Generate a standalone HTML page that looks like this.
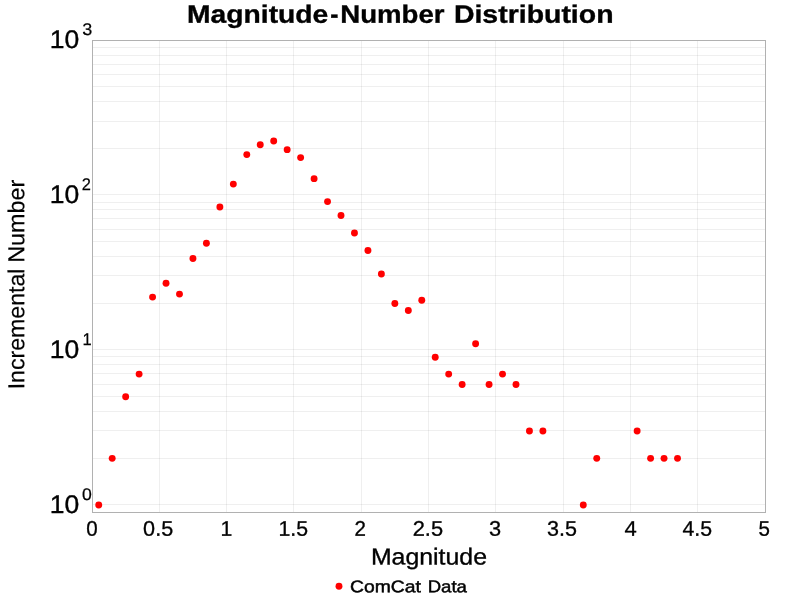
<!DOCTYPE html>
<html><head><meta charset="utf-8"><title>Magnitude-Number Distribution</title>
<style>html,body{margin:0;padding:0;background:#fff;overflow:hidden}svg{display:block}text{font-family:"Liberation Sans",sans-serif;fill:#000}</style></head><body>
<svg width="800" height="600" viewBox="0 0 800 600">
<rect x="0" y="0" width="800" height="600" fill="#fff"/>
<g shape-rendering="crispEdges" fill="#000" fill-opacity="0.063">
<rect x="93" y="504" width="672" height="1"/>
<rect x="93" y="458" width="672" height="1"/>
<rect x="93" y="430" width="672" height="1"/>
<rect x="93" y="411" width="672" height="1"/>
<rect x="93" y="396" width="672" height="1"/>
<rect x="93" y="384" width="672" height="1"/>
<rect x="93" y="373" width="672" height="1"/>
<rect x="93" y="364" width="672" height="1"/>
<rect x="93" y="356" width="672" height="1"/>
<rect x="93" y="349" width="672" height="1"/>
<rect x="93" y="303" width="672" height="1"/>
<rect x="93" y="275" width="672" height="1"/>
<rect x="93" y="256" width="672" height="1"/>
<rect x="93" y="241" width="672" height="1"/>
<rect x="93" y="229" width="672" height="1"/>
<rect x="93" y="218" width="672" height="1"/>
<rect x="93" y="209" width="672" height="1"/>
<rect x="93" y="202" width="672" height="1"/>
<rect x="93" y="194" width="672" height="1"/>
<rect x="93" y="148" width="672" height="1"/>
<rect x="93" y="121" width="672" height="1"/>
<rect x="93" y="101" width="672" height="1"/>
<rect x="93" y="86" width="672" height="1"/>
<rect x="93" y="74" width="672" height="1"/>
<rect x="93" y="64" width="672" height="1"/>
<rect x="93" y="55" width="672" height="1"/>
<rect x="93" y="47" width="672" height="1"/>
<rect x="159" y="41" width="1" height="471"/>
<rect x="226" y="41" width="1" height="471"/>
<rect x="293" y="41" width="1" height="471"/>
<rect x="361" y="41" width="1" height="471"/>
<rect x="428" y="41" width="1" height="471"/>
<rect x="495" y="41" width="1" height="471"/>
<rect x="563" y="41" width="1" height="471"/>
<rect x="630" y="41" width="1" height="471"/>
<rect x="697" y="41" width="1" height="471"/>
</g>
<g shape-rendering="crispEdges" fill="#b1b1b1">
<rect x="92" y="40" width="674" height="1"/><rect x="92" y="512" width="674" height="1"/><rect x="92" y="40" width="1" height="473"/><rect x="765" y="40" width="1" height="473"/>
</g>
<g fill="#ff0000">
<circle cx="98.73" cy="504.95" r="3.45"/>
<circle cx="112.19" cy="458.34" r="3.45"/>
<circle cx="125.65" cy="396.71" r="3.45"/>
<circle cx="139.11" cy="374.09" r="3.45"/>
<circle cx="152.57" cy="297.08" r="3.45"/>
<circle cx="166.03" cy="283.30" r="3.45"/>
<circle cx="179.49" cy="294.09" r="3.45"/>
<circle cx="192.95" cy="258.57" r="3.45"/>
<circle cx="206.41" cy="243.22" r="3.45"/>
<circle cx="219.87" cy="206.98" r="3.45"/>
<circle cx="233.33" cy="184.12" r="3.45"/>
<circle cx="246.79" cy="154.61" r="3.45"/>
<circle cx="260.25" cy="144.72" r="3.45"/>
<circle cx="273.71" cy="141.01" r="3.45"/>
<circle cx="287.17" cy="149.65" r="3.45"/>
<circle cx="300.63" cy="157.62" r="3.45"/>
<circle cx="314.09" cy="178.65" r="3.45"/>
<circle cx="327.55" cy="201.59" r="3.45"/>
<circle cx="341.01" cy="215.50" r="3.45"/>
<circle cx="354.47" cy="233.05" r="3.45"/>
<circle cx="367.93" cy="250.46" r="3.45"/>
<circle cx="381.39" cy="274.01" r="3.45"/>
<circle cx="394.85" cy="303.49" r="3.45"/>
<circle cx="408.31" cy="310.57" r="3.45"/>
<circle cx="421.77" cy="300.20" r="3.45"/>
<circle cx="435.23" cy="357.19" r="3.45"/>
<circle cx="448.69" cy="374.09" r="3.45"/>
<circle cx="462.15" cy="384.45" r="3.45"/>
<circle cx="475.61" cy="343.69" r="3.45"/>
<circle cx="489.07" cy="384.45" r="3.45"/>
<circle cx="502.53" cy="374.09" r="3.45"/>
<circle cx="515.99" cy="384.45" r="3.45"/>
<circle cx="529.45" cy="431.07" r="3.45"/>
<circle cx="542.91" cy="431.07" r="3.45"/>
<circle cx="583.29" cy="504.95" r="3.45"/>
<circle cx="596.75" cy="458.34" r="3.45"/>
<circle cx="637.13" cy="431.07" r="3.45"/>
<circle cx="650.59" cy="458.34" r="3.45"/>
<circle cx="664.05" cy="458.34" r="3.45"/>
<circle cx="677.51" cy="458.34" r="3.45"/>
<circle cx="339" cy="586.3" r="3.45"/>
</g>
<g id="txt" style="opacity:0.999">
<text id="t1" x="187.05" y="22.70" font-size="25.10" font-weight="bold" textLength="141.29" lengthAdjust="spacingAndGlyphs" stroke="#000" stroke-width="0.35" transform="rotate(0.03 257.7 22.7)">Magnitude</text>
<text id="t2" x="330.19" y="22.70" font-size="25.10" font-weight="bold" textLength="8.20" lengthAdjust="spacingAndGlyphs" stroke="#000" stroke-width="0.35" transform="rotate(0.03 334.3 22.7)">-</text>
<text id="t3" x="340.25" y="22.70" font-size="25.10" font-weight="bold" textLength="104.27" lengthAdjust="spacingAndGlyphs" stroke="#000" stroke-width="0.35" transform="rotate(0.03 392.4 22.7)">Number</text>
<text id="t4" x="453.91" y="22.70" font-size="25.10" font-weight="bold" textLength="159.63" lengthAdjust="spacingAndGlyphs" stroke="#000" stroke-width="0.35" transform="rotate(0.03 533.7 22.7)">Distribution</text>
<text id="yt3" x="49.88" y="48.00" font-size="25.40" textLength="29.50" lengthAdjust="spacingAndGlyphs" stroke="#000" stroke-width="0.38" transform="rotate(0.03 64.6 48.0)">10</text>
<text id="ys3" x="82.23" y="35.00" font-size="16.95" textLength="10.00" lengthAdjust="spacingAndGlyphs" stroke="#000" stroke-width="0.25" transform="rotate(0.03 87.2 35.0)">3</text>
<text id="yt2" x="49.88" y="203.00" font-size="25.40" textLength="29.50" lengthAdjust="spacingAndGlyphs" stroke="#000" stroke-width="0.38" transform="rotate(0.03 64.6 203.0)">10</text>
<text id="ys2" x="81.78" y="190.00" font-size="16.95" textLength="9.14" lengthAdjust="spacingAndGlyphs" stroke="#000" stroke-width="0.25" transform="rotate(0.03 86.3 190.0)">2</text>
<text id="yt1" x="49.88" y="358.00" font-size="25.40" textLength="29.50" lengthAdjust="spacingAndGlyphs" stroke="#000" stroke-width="0.38" transform="rotate(0.03 64.6 358.0)">10</text>
<text id="ys1" x="82.60" y="345.00" font-size="16.95" textLength="9.18" lengthAdjust="spacingAndGlyphs" stroke="#000" stroke-width="0.25" transform="rotate(0.03 87.2 345.0)">1</text>
<text id="yt0" x="49.88" y="513.00" font-size="25.40" textLength="29.50" lengthAdjust="spacingAndGlyphs" stroke="#000" stroke-width="0.38" transform="rotate(0.03 64.6 513.0)">10</text>
<text id="ys0" x="81.91" y="500.00" font-size="16.95" textLength="9.79" lengthAdjust="spacingAndGlyphs" stroke="#000" stroke-width="0.25" transform="rotate(0.03 86.8 500.0)">0</text>
<text id="xt0" x="86.31" y="535.85" font-size="21.20" textLength="11.44" lengthAdjust="spacingAndGlyphs" stroke="#000" stroke-width="0.32" transform="rotate(0.03 92.0 535.9)">0</text>
<text id="xt1" x="143.12" y="535.85" font-size="21.20" textLength="30.05" lengthAdjust="spacingAndGlyphs" stroke="#000" stroke-width="0.32" transform="rotate(0.03 158.1 535.9)">0.5</text>
<text id="xt2" x="220.39" y="535.85" font-size="21.20" textLength="11.78" lengthAdjust="spacingAndGlyphs" stroke="#000" stroke-width="0.32" transform="rotate(0.03 226.3 535.9)">1</text>
<text id="xt3" x="278.51" y="535.85" font-size="21.20" textLength="29.56" lengthAdjust="spacingAndGlyphs" stroke="#000" stroke-width="0.32" transform="rotate(0.03 293.3 535.9)">1.5</text>
<text id="xt4" x="354.62" y="535.85" font-size="21.20" textLength="11.44" lengthAdjust="spacingAndGlyphs" stroke="#000" stroke-width="0.32" transform="rotate(0.03 360.3 535.9)">2</text>
<text id="xt5" x="412.69" y="535.85" font-size="21.20" textLength="30.38" lengthAdjust="spacingAndGlyphs" stroke="#000" stroke-width="0.32" transform="rotate(0.03 427.9 535.9)">2.5</text>
<text id="xt6" x="489.05" y="535.85" font-size="21.20" textLength="12.12" lengthAdjust="spacingAndGlyphs" stroke="#000" stroke-width="0.32" transform="rotate(0.03 495.1 535.9)">3</text>
<text id="xt7" x="547.03" y="535.85" font-size="21.20" textLength="29.94" lengthAdjust="spacingAndGlyphs" stroke="#000" stroke-width="0.32" transform="rotate(0.03 562.0 535.9)">3.5</text>
<text id="xt8" x="624.43" y="535.85" font-size="21.20" textLength="12.28" lengthAdjust="spacingAndGlyphs" stroke="#000" stroke-width="0.32" transform="rotate(0.03 630.6 535.9)">4</text>
<text id="xt9" x="682.45" y="535.85" font-size="21.20" textLength="29.61" lengthAdjust="spacingAndGlyphs" stroke="#000" stroke-width="0.32" transform="rotate(0.03 697.3 535.9)">4.5</text>
<text id="xt10" x="758.60" y="535.85" font-size="21.20" textLength="11.44" lengthAdjust="spacingAndGlyphs" stroke="#000" stroke-width="0.32" transform="rotate(0.03 764.3 535.9)">5</text>
<text id="xl" x="370.93" y="564.50" font-size="23.10" textLength="116.05" lengthAdjust="spacingAndGlyphs" stroke="#000" stroke-width="0.35" transform="rotate(0.03 429.0 564.5)">Magnitude</text>
<text id="lg1" x="350.07" y="592.20" font-size="16.95" textLength="70.88" lengthAdjust="spacingAndGlyphs" stroke="#000" stroke-width="0.47" transform="rotate(0.03 385.5 592.2)">ComCat</text>
<text id="lg2" x="427.69" y="592.20" font-size="16.95" textLength="39.22" lengthAdjust="spacingAndGlyphs" stroke="#000" stroke-width="0.47" transform="rotate(0.03 447.3 592.2)">Data</text>
<text id="yl1" transform="rotate(-90.03)" x="-389.35" y="24.10" font-size="23.10" stroke="#000" stroke-width="0.18" textLength="120.76" lengthAdjust="spacingAndGlyphs">Incremental</text>
<text id="yl2" transform="rotate(-90.03)" x="-262.79" y="24.10" font-size="23.10" stroke="#000" stroke-width="0.18" textLength="83.08" lengthAdjust="spacingAndGlyphs">Number</text>
</g>
</svg></body></html>
